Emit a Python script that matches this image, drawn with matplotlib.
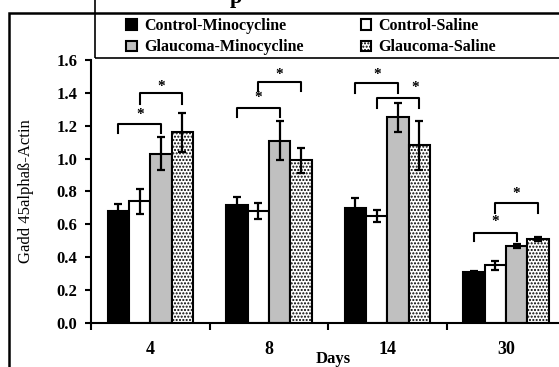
import matplotlib
matplotlib.use('Agg')
import matplotlib.pyplot as plt
from matplotlib.patches import Rectangle
import numpy as np

plt.rcParams['font.family'] = ['Liberation Serif', 'DejaVu Serif']
plt.rcParams['font.weight'] = 'bold'
plt.rcParams['hatch.linewidth'] = 1.0

# données
days = ['4', '8', '14', '30']
series = ['Control-Minocycline', 'Control-Saline', 'Glaucoma-Minocycline', 'Glaucoma-Saline']
ctrl_mino = [0.68, 0.72, 0.70, 0.31]
ctrl_sal = [0.74, 0.68, 0.65, 0.35]
glau_mino = [1.03, 1.11, 1.25, 0.47]
glau_sal = [1.16, 0.99, 1.08, 0.51]
err_ctrl_mino = [0.045, 0.045, 0.058, 0.006]
err_ctrl_sal = [0.075, 0.05, 0.035, 0.025]
err_glau_mino = [0.10, 0.12, 0.09, 0.012]
err_glau_sal = [0.12, 0.077, 0.15, 0.012]

# crochets de significativité : (jour, barre gauche, barre droite, haut, bas des pattes, position étoile, hauteur étoile)
brackets = [
    (0, 0, 2, 1.21, 1.155, 1.0, 1.27),
    (0, 1, 3, 1.40, 1.33, 2.0, 1.44),
    (1, 0, 2, 1.31, 1.25, 1.0, 1.37),
    (1, 1, 3, 1.465, 1.41, 2.0, 1.51),
    (2, 0, 2, 1.46, 1.40, 1.0, 1.51),
    (2, 1, 3, 1.37, 1.31, 2.8, 1.43),
    (3, 0, 2, 0.55, 0.50, 1.0, 0.615),
    (3, 1, 3, 0.73, 0.67, 2.0, 0.79),
]

values = [ctrl_mino, ctrl_sal, glau_mino, glau_sal]
errors = [err_ctrl_mino, err_ctrl_sal, err_glau_mino, err_glau_sal]
colors = ['black', 'white', '#c0c0c0', 'white']
hatches = [None, None, None, '.....']

fig = plt.figure(figsize=(5.59, 3.67), dpi=100)
ax = fig.add_axes([0.163, 0.12, 0.848, 0.7166])

x = np.arange(len(days))
w = 0.18
handles = []
for i in range(4):
    pos = x + (i - 1.5) * w
    b = ax.bar(pos, values[i], w, color=colors[i], edgecolor='black',
               linewidth=1.5, hatch=hatches[i], label=series[i], zorder=2)
    handles.append(b)
    ax.errorbar(pos, values[i], yerr=errors[i], fmt='none', ecolor='black',
                elinewidth=1.6, capsize=3, capthick=1.6, zorder=3)

for g, i, j, top, low, s, sy in brackets:
    x1 = g + (i - 1.5) * w
    x2 = g + (j - 1.5) * w
    ax.plot([x1, x1, x2, x2], [low, top, top, low], color='black', lw=1.5,
            solid_joinstyle='round', zorder=4)
    ax.text(g + (s - 1.5) * w, sy, '*', ha='center', va='center', fontsize=11)

ax.set_xlim(-0.5, 3.5)
ax.set_ylim(0, 1.6)
ax.set_yticks(np.arange(0, 1.61, 0.2))
ax.set_yticklabels(['%.1f' % v for v in np.arange(0, 1.61, 0.2)], fontsize=12)
ax.set_xticks(np.arange(-0.5, 3.6, 1))
ax.set_xticklabels([])
ax.set_xticks(x, minor=True)
ax.set_xticklabels(days, minor=True, fontsize=13)
ax.tick_params(axis='x', which='minor', length=0, pad=13)
ax.tick_params(axis='x', which='major', length=5, width=1.5, direction='out')
ax.tick_params(axis='y', length=4, width=1.5, direction='out', pad=6)
for sp in ['top', 'right']:
    ax.spines[sp].set_visible(False)
for sp in ['left', 'bottom']:
    ax.spines[sp].set_linewidth(1.5)

ax.set_ylabel('Gadd 45alphaß-Actin', fontsize=12)
ax.yaxis.set_label_coords(-0.121, 0.50)
fig.text(0.596, 0.023, 'Days', ha='center', va='center', fontsize=12)

# cadre extérieur
fig.patches.append(Rectangle((0.0161, -0.1), 1.2, 1.0646, transform=fig.transFigure,
                             fill=False, edgecolor='black', lw=1.8, zorder=5))
# cadre de la légende
fig.patches.append(Rectangle((0.17, 0.841), 1.0, 0.2, transform=fig.transFigure,
                             fill=False, edgecolor='black', lw=1.2, zorder=5))

# légende (ordre ligne par ligne)
order = [0, 2, 1, 3]
leg = fig.legend(handles=[handles[k] for k in order], labels=[series[k] for k in order],
                 ncol=2, loc='center left', bbox_to_anchor=(0.226, 0.9),
                 fontsize=11.5, frameon=False,
                 handlelength=0.65, handleheight=0.65, handletextpad=0.45,
                 columnspacing=3.6, borderaxespad=0, borderpad=0, labelspacing=0.35)

# fragment de titre coupé
fig.text(0.422, 0.992, 'p', ha='center', va='baseline', fontsize=16)

plt.savefig('out.png', dpi=100)
